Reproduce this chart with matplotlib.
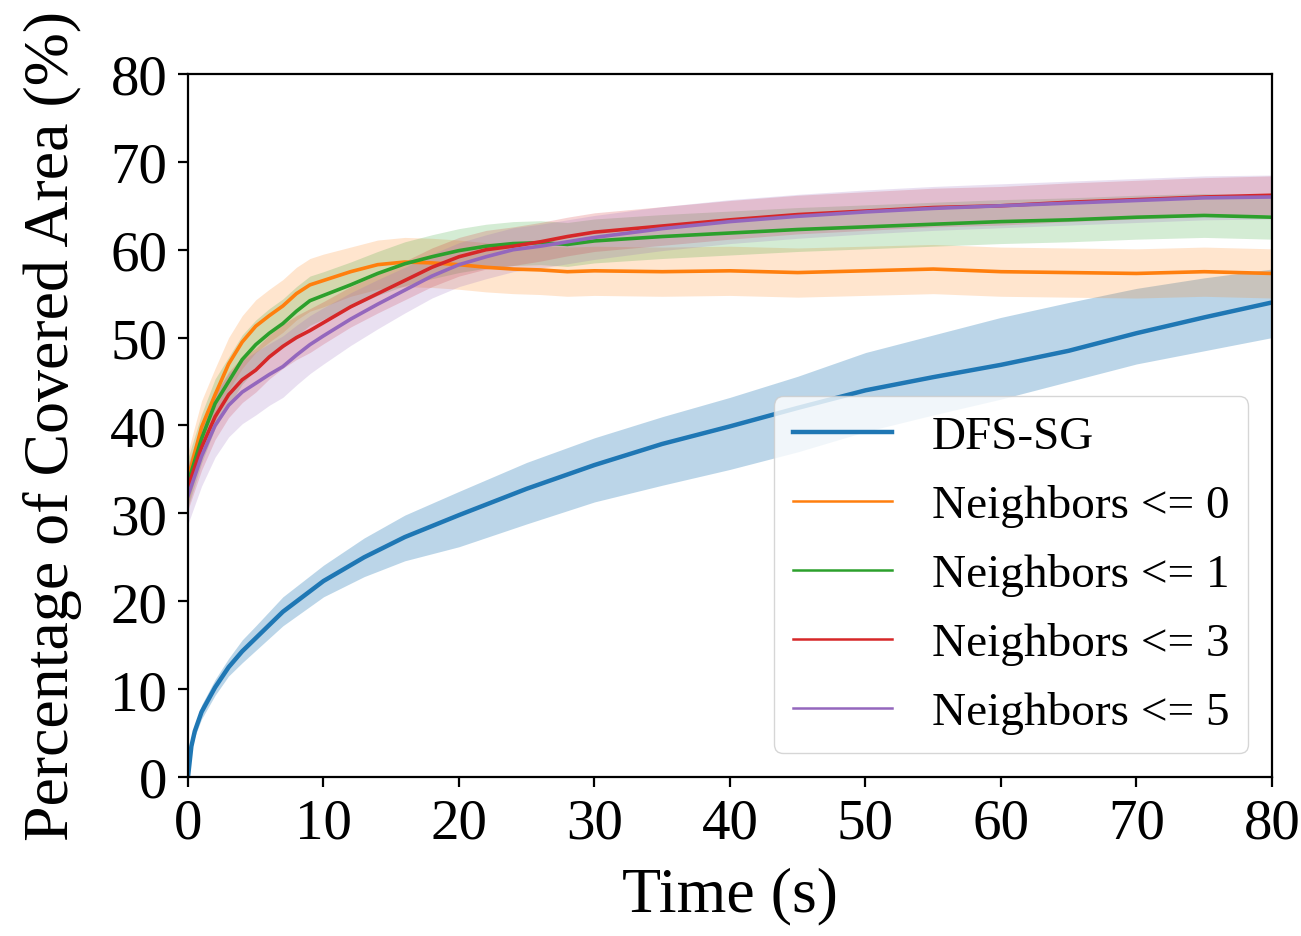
import numpy as np
import matplotlib
matplotlib.use("Agg")
import matplotlib.pyplot as plt

# --- data (percent of covered area vs time in s) ---
t_dfs = [0, 0.25, 0.5, 1, 2, 3, 4, 5, 7, 10, 13, 16, 20, 25, 30, 35, 40, 45, 50, 55, 60, 65, 70, 75, 80]
dfs_mean = [0, 3.5, 5.2, 7.4, 10.2, 12.5, 14.3, 15.8, 18.8, 22.3, 25.0, 27.3, 29.8, 32.8, 35.5, 37.9,
            39.9, 42.0, 44.0, 45.5, 46.9, 48.5, 50.5, 52.3, 54.0]
dfs_low = [0, 3.0, 4.6, 6.6, 9.3, 11.5, 13.0, 14.4, 17.2, 20.5, 22.8, 24.6, 26.2, 28.8, 31.3, 33.2,
           35.0, 37.0, 39.3, 41.2, 43.0, 45.0, 47.0, 48.5, 50.0]
dfs_high = [0, 4.0, 5.8, 8.2, 11.1, 13.5, 15.6, 17.2, 20.5, 24.1, 27.2, 29.8, 32.5, 35.8, 38.6, 41.0,
            43.2, 45.6, 48.3, 50.3, 52.3, 54.0, 55.6, 56.8, 57.8]

t_nb = [0, 1, 2, 3, 4, 5, 6, 7, 8, 9, 10, 12, 14, 16, 18, 20, 22, 24, 26, 28, 30,
        35, 40, 45, 50, 55, 60, 65, 70, 75, 80]
nb0 = [34.0, 39.8, 43.5, 47.0, 49.5, 51.3, 52.5, 53.6, 55.0, 56.0, 56.5, 57.5, 58.3, 58.6, 58.5, 58.3,
       58.0, 57.8, 57.7, 57.5, 57.6, 57.5, 57.6, 57.4, 57.6, 57.8, 57.5, 57.4, 57.3, 57.5, 57.3]
nb1 = [33.5, 38.5, 42.5, 45.0, 47.5, 49.2, 50.5, 51.6, 53.0, 54.2, 54.8, 56.0, 57.3, 58.4, 59.2, 59.9,
       60.4, 60.7, 60.8, 60.6, 61.0, 61.5, 61.9, 62.3, 62.6, 62.9, 63.2, 63.4, 63.7, 63.9, 63.7]
nb3 = [33.0, 37.5, 41.0, 43.5, 45.2, 46.3, 47.8, 49.0, 50.0, 50.8, 51.7, 53.5, 55.0, 56.5, 58.0, 59.2,
       60.0, 60.4, 60.9, 61.5, 62.0, 62.7, 63.4, 64.0, 64.4, 64.8, 65.0, 65.4, 65.7, 66.0, 66.2]
nb5 = [32.0, 36.5, 40.0, 42.3, 43.8, 44.8, 45.8, 46.7, 48.0, 49.2, 50.2, 52.1, 53.8, 55.4, 57.0, 58.3,
       59.2, 60.0, 60.4, 60.9, 61.4, 62.4, 63.2, 63.8, 64.3, 64.7, 65.0, 65.3, 65.6, 65.9, 66.0]
# half-width of the shaded band around each neighbour curve
nb0_spread = [3.0, 3.0, 3.0, 3.0, 3.0, 3.0, 3.0, 3.0, 3.0, 3.0, 3.0, 2.8, 2.8, 2.8, 2.8, 2.8,
              2.8, 2.8, 2.8, 2.8, 2.8, 2.8, 2.8, 2.8, 2.8, 2.8, 2.8, 2.8, 2.8, 2.8, 2.8]
nb1_spread = [2.8, 2.8, 2.8, 2.8, 2.8, 2.8, 2.8, 2.8, 2.8, 2.8, 2.7, 2.6, 2.5, 2.5, 2.5, 2.5,
              2.5, 2.5, 2.5, 2.5, 2.5, 2.5, 2.5, 2.5, 2.5, 2.5, 2.5, 2.5, 2.5, 2.5, 2.5]
nb3_spread = [2.6, 2.6, 2.6, 2.6, 2.6, 2.5, 2.5, 2.5, 2.5, 2.5, 2.4, 2.3, 2.2, 2.2, 2.2, 2.2,
              2.2, 2.2, 2.2, 2.2, 2.2, 2.2, 2.2, 2.2, 2.2, 2.2, 2.2, 2.2, 2.2, 2.2, 2.2]
nb5_spread = [3.2, 3.4, 3.6, 3.6, 3.6, 3.6, 3.5, 3.5, 3.4, 3.3, 3.2, 3.0, 2.8, 2.6, 2.5, 2.5,
              2.5, 2.5, 2.5, 2.5, 2.5, 2.5, 2.5, 2.5, 2.5, 2.5, 2.5, 2.5, 2.5, 2.5, 2.5]

labels = ["DFS-SG", "Neighbors <= 0", "Neighbors <= 1", "Neighbors <= 3", "Neighbors <= 5"]
colors = ["#1f77b4", "#ff7f0e", "#2ca02c", "#d62728", "#9467bd"]

plt.rcParams["font.family"] = ["Liberation Serif", "DejaVu Serif"]

fig = plt.figure(figsize=(13.01, 9.37), dpi=100)
ax = fig.add_axes([0.1445, 0.1697, 0.8332, 0.7503])

# DFS-SG baseline
ax.fill_between(t_dfs, dfs_low, dfs_high, color=colors[0], alpha=0.3, linewidth=0)
ax.plot(t_dfs, dfs_mean, color=colors[0], lw=3.2, label=labels[0])

# neighbour-limited variants
series = [nb0, nb1, nb3, nb5]
spreads = [nb0_spread, nb1_spread, nb3_spread, nb5_spread]
for i, (vals, spr) in enumerate(zip(series, spreads)):
    v = np.array(vals)
    s = np.array(spr)
    c = colors[i + 1]
    ax.fill_between(t_nb, v - s, v + s, color=c, alpha=0.2, linewidth=0)
    ax.plot(t_nb, v, color=c, lw=2.6, label=labels[i + 1])

ax.set_xlim(0, 80)
ax.set_ylim(0, 80)
ax.set_xticks(range(0, 81, 10))
ax.set_yticks(range(0, 81, 10))
ax.tick_params(labelsize=41, length=7, width=1.6, pad=8)
for sp in ax.spines.values():
    sp.set_linewidth(1.6)

ax.set_xlabel("Time (s)", fontsize=46, labelpad=12)
ax.set_ylabel("Percentage of Covered Area (%)", fontsize=46, labelpad=20)

leg = ax.legend(loc="lower right", fontsize=34, labelspacing=0.55, handlelength=2.1,
                handletextpad=0.85, borderpad=0.4)
# neighbour handles are drawn thinner than the baseline in the legend
for line in leg.get_lines()[1:]:
    line.set_linewidth(1.8)

fig.savefig("out.png", dpi=100)
